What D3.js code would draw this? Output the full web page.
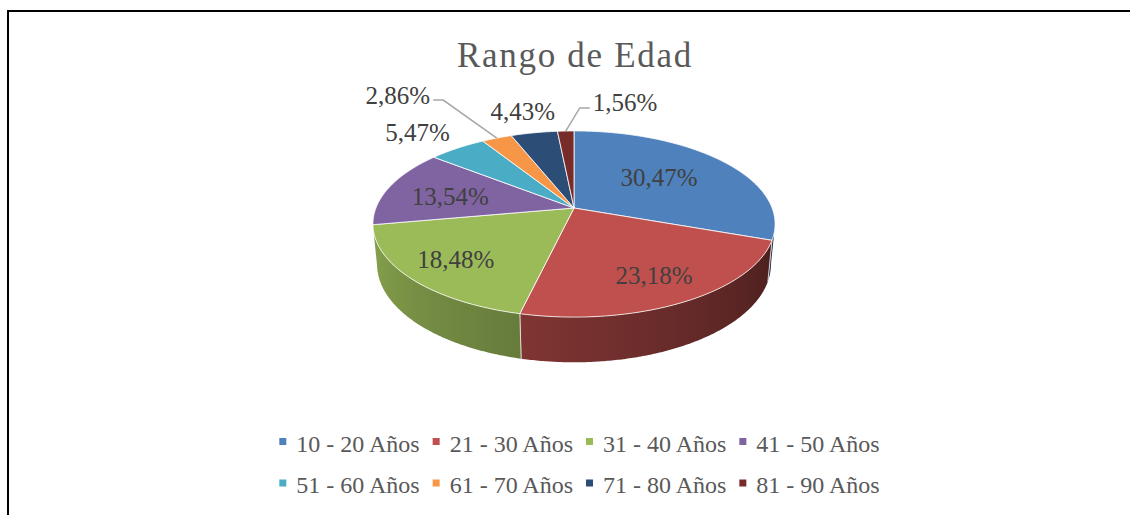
<!DOCTYPE html>
<html>
<head>
<meta charset="utf-8">
<script src="https://cdn.jsdelivr.net/npm/d3@7"></script>
<style>
  body { margin: 0; background: #fff; }
  svg { display: block; }
  text { font-family: "Liberation Serif", "Times New Roman", serif; }
</style>
</head>
<body>
<div id="viz"></div>
<script>
const title = "Rango de Edad";
const categories = ["10 - 20 Años", "21 - 30 Años", "31 - 40 Años", "41 - 50 Años",
                    "51 - 60 Años", "61 - 70 Años", "71 - 80 Años", "81 - 90 Años"];
const values = [30.47, 23.18, 18.48, 13.54, 5.47, 2.86, 4.43, 1.56];
const colors = ["#4f81bd", "#c0504d", "#9bbb59", "#8064a2", "#4bacc6", "#f79646", "#2c4d75", "#772c2a"];

// label placement (radius factor, angle shift in degrees from slice middle)
const labelRadius = [0.58, 0.75, 0.75, 0.65, 1.35, 1.955, 1.35, 1.49];
const labelShift = [-3, 0, 0, -3, -1.5, -8.7, 0, 15.3];
const leaderFor = [false, false, false, false, false, true, false, true];

const width = 1130, height = 515;

const svg = d3.select("#viz")
  .append("svg")
    .attr("width", width)
    .attr("height", height);
const defs = svg.append("defs");

// chart frame (left + top edge only visible)
svg.append("path")
  .attr("d", `M8,${height} V11 H${width}`)
  .style("fill", "none")
  .style("stroke", "#000")
  .style("stroke-width", 2);

svg.append("text")
  .attr("x", 575)
  .attr("y", 67)
  .attr("text-anchor", "middle")
  .style("font-size", "35px")
  .style("letter-spacing", "1.7px")
  .style("fill", "#595959")
  .text(title);

// 3d projection of the pie
const cx = 574, cy = 208;
const k = 1024, dist = 5.17;
const sinP = 0.456, cosP = 0.89;
const thick = 0.23;

function project(theta, r, y) {
  const X = r * Math.sin(theta), Z = -r * Math.cos(theta);
  const yy = y * cosP - Z * sinP;
  const depth = dist - Z * cosP - y * sinP;
  return [cx + k * X / depth, cy - k * yy / depth];
}

const pie = d3.pie().sort(null).value(d => d);
const arcs = pie(values);
const step = Math.PI / 360;

function shade(theta) {
  const deg = theta * 180 / Math.PI;
  return Math.max(0.36, Math.min(0.92, 0.39 + 0.00327 * (deg - 110)));
}
function shadeColor(i, t) {
  const c = d3.rgb(colors[i]);
  const f = shade(t);
  return d3.rgb(c.r * f, c.g * f, c.b * f).formatHex();
}

// silhouette angles of the side wall (extreme x on screen)
const scan = d3.range(Math.PI / 2, Math.PI * 1.5, step);
const wallStart = scan[d3.maxIndex(scan, t => project(t, 1, 0)[0])];
const wallEnd = scan[d3.minIndex(scan, t => project(t, 1, 0)[0])];

const poly = d3.line().curve(d3.curveLinearClosed);

const wallG = svg.append("g");
arcs.forEach((a, i) => {
  const t0 = Math.max(a.startAngle, wallStart);
  const t1 = Math.min(a.endAngle, wallEnd);
  if (t1 <= t0) return;
  const ts = d3.range(t0, t1, step).concat([t1]);
  const top = ts.map(t => project(t, 1, 0));
  const bottom = ts.map(t => project(t, 1, -thick)).reverse();

  const xa = top[0][0], xb = top[top.length - 1][0];
  const grad = defs.append("linearGradient")
    .attr("id", `wall${i}`)
    .attr("gradientUnits", "userSpaceOnUse")
    .attr("x1", xa).attr("y1", 0)
    .attr("x2", xb).attr("y2", 0);
  ts.filter((t, j) => j % 6 === 0 || j === ts.length - 1).forEach(t => {
    grad.append("stop")
      .attr("offset", (project(t, 1, 0)[0] - xa) / (xb - xa))
      .attr("stop-color", shadeColor(i, t));
  });

  wallG.append("path")
    .attr("d", poly(top.concat(bottom)))
    .style("fill", `url(#wall${i})`);

  // light seam at the slice edge
  [a.startAngle, a.endAngle].forEach(t => {
    if (t > wallStart + 0.01 && t < wallEnd - 0.01) {
      const p0 = project(t, 1, 0), p1 = project(t, 1, -thick);
      wallG.append("line")
        .attr("x1", p0[0]).attr("y1", p0[1])
        .attr("x2", p1[0]).attr("y2", p1[1])
        .style("stroke", "#fff")
        .style("stroke-opacity", 0.6)
        .style("stroke-width", 1);
    }
  });
});

// top face
svg.append("g").selectAll("path")
  .data(arcs)
  .join("path")
    .attr("d", a => {
      const pts = [[cx, cy]];
      for (let t = a.startAngle; t < a.endAngle; t += step) pts.push(project(t, 1, 0));
      pts.push(project(a.endAngle, 1, 0));
      return poly(pts);
    })
    .style("fill", (a, i) => colors[i])
    .style("stroke", "#fff")
    .style("stroke-opacity", 0.8)
    .style("stroke-width", 1)
    .style("stroke-linejoin", "round");

// data labels
const locale = d3.formatLocale({ decimal: ",", thousands: ".", grouping: [3], currency: ["", ""] });
const fmt = locale.format(".2f");

const labels = svg.append("g");
arcs.forEach((a, i) => {
  const mid = (a.startAngle + a.endAngle) / 2;
  const p = project(mid + labelShift[i] * Math.PI / 180, labelRadius[i], 0);
  const txt = labels.append("text")
    .attr("x", p[0])
    .attr("y", p[1] + 8.5)
    .attr("text-anchor", "middle")
    .style("font-size", "25px")
    .style("fill", "#404040")
    .text(fmt(values[i]) + "%");

  if (leaderFor[i]) {
    const w = txt.node().getComputedTextLength();
    const edge = project(mid, 1, 0);
    const side = edge[0] > p[0] ? 1 : -1;
    const x0 = p[0] + side * (w / 2 + 3);
    const y0 = p[1] + 5;
    labels.append("path")
      .attr("d", d3.line()([[x0, y0], [x0 + side * 10, y0], edge]))
      .style("fill", "none")
      .style("stroke", "#a6a6a6")
      .style("stroke-width", 1.5);
  }
});

// legend
const legend = svg.append("g");
const perRow = 4;
const probe = legend.append("text").style("font-size", "24px").text(categories[0]);
const maxW = d3.max(categories, c => { probe.text(c); return probe.node().getComputedTextLength(); });
probe.remove();
const itemW = maxW + 30;
const legendLeft = 580 - (perRow * itemW - 12) / 2;
const rowY = [451.5, 493];

categories.forEach((c, i) => {
  const x = legendLeft + (i % perRow) * itemW;
  const y = rowY[Math.floor(i / perRow)];
  legend.append("rect")
    .attr("x", x)
    .attr("y", y - 13.5)
    .attr("width", 7)
    .attr("height", 7)
    .style("fill", colors[i]);
  legend.append("text")
    .attr("x", x + 17)
    .attr("y", y)
    .style("font-size", "24px")
    .style("fill", "#595959")
    .text(c);
});
</script>
</body>
</html>
